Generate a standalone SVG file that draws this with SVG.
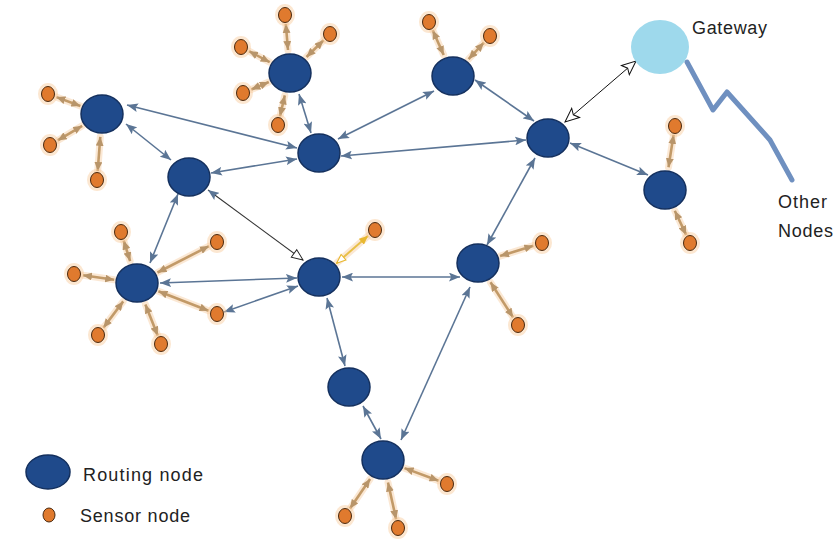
<svg xmlns="http://www.w3.org/2000/svg" width="835" height="542" viewBox="0 0 835 542">
<defs>
<style>
.rn{fill:#1F4A8B;stroke:#14305E;stroke-width:1.5}
.sn{fill:#E07A2E;stroke:#4A2A10;stroke-width:1}
.halo{fill:#F9C99A;opacity:0.45}
.bl{stroke:#5B7595;stroke-width:1.6;fill:none;marker-start:url(#ab);marker-end:url(#ab)}
.tg{stroke:#F8D5B0;stroke-width:7;fill:none;opacity:0.55;stroke-linecap:round}
.tn{stroke:#C29A68;stroke-width:2.6;fill:none;marker-start:url(#at);marker-end:url(#at)}
.lbl{font-family:"Liberation Sans",Arial,sans-serif;font-size:18px;fill:#222}
</style>
<marker id="ab" viewBox="0 0 10 8" refX="10" refY="4" markerWidth="11" markerHeight="9" markerUnits="userSpaceOnUse" orient="auto-start-reverse">
<path d="M0,0 L10,4 L0,8 L2,4 Z" fill="#5B7595"/>
</marker>
<marker id="at" viewBox="0 0 8 7" refX="8" refY="3.5" markerWidth="9" markerHeight="8" markerUnits="userSpaceOnUse" orient="auto-start-reverse">
<path d="M0,0 L8,3.5 L0,7 Z" fill="#B8956A"/>
</marker>
<marker id="ah" viewBox="0 0 16 14" refX="15" refY="7" markerWidth="16" markerHeight="14" markerUnits="userSpaceOnUse" orient="auto-start-reverse">
<path d="M1,1 L15,7 L1,13 L4,7 Z" fill="#fff" stroke="#111" stroke-width="1"/>
</marker>
<marker id="ahs" viewBox="0 0 14 12" refX="13" refY="6" markerWidth="13" markerHeight="12" markerUnits="userSpaceOnUse" orient="auto-start-reverse">
<path d="M1,1 L13,6 L1,11 Z" fill="#fff" stroke="#222" stroke-width="1"/>
</marker>
<marker id="ayh" viewBox="0 0 12 10" refX="11" refY="5" markerWidth="11" markerHeight="10" markerUnits="userSpaceOnUse" orient="auto-start-reverse">
<path d="M1,1 L11,5 L1,9 Z" fill="#fff" stroke="#E8B830" stroke-width="1.2"/>
</marker>
<marker id="ayf" viewBox="0 0 8 7" refX="8" refY="3.5" markerWidth="9" markerHeight="8" markerUnits="userSpaceOnUse" orient="auto">
<path d="M0,0 L8,3.5 L0,7 Z" fill="#E8B830"/>
</marker>
</defs>
<rect width="835" height="542" fill="#fff"/>

<g id="connectors">
<!-- sensor link glows -->
<g>
<line class="tg" x1="80.4" y1="106" x2="56.4" y2="97.1"/>
<line class="tg" x1="82.2" y1="125.8" x2="57.7" y2="140.4"/>
<line class="tg" x1="100.3" y1="136.9" x2="97.7" y2="171"/>
<line class="tg" x1="288" y1="50" x2="285.8" y2="24"/>
<line class="tg" x1="306.5" y1="57" x2="323.6" y2="40.3"/>
<line class="tg" x1="269.7" y1="62.2" x2="249" y2="51.2"/>
<line class="tg" x1="268.8" y1="82" x2="251.3" y2="89.5"/>
<line class="tg" x1="284.8" y1="95.4" x2="280" y2="116.2"/>
<line class="tg" x1="443.7" y1="55" x2="432.7" y2="30.2"/>
<line class="tg" x1="468.6" y1="59.1" x2="483.9" y2="42.6"/>
<line class="tg" x1="668.5" y1="167.3" x2="673.6" y2="134.9"/>
<line class="tg" x1="674.8" y1="210.8" x2="686.2" y2="234.9"/>
<line class="tg" x1="130.1" y1="261.1" x2="123.7" y2="240.6"/>
<line class="tg" x1="157.5" y1="272.5" x2="209" y2="246.1"/>
<line class="tg" x1="114.2" y1="279.8" x2="82.9" y2="275.3"/>
<line class="tg" x1="158.4" y1="291.3" x2="208.6" y2="310.7"/>
<line class="tg" x1="123.2" y1="301.4" x2="103.4" y2="327.8"/>
<line class="tg" x1="145.4" y1="304.4" x2="157.7" y2="335.6"/>
<line class="tg" x1="500" y1="256.1" x2="533.4" y2="245.7"/>
<line class="tg" x1="490.5" y1="282.3" x2="513.1" y2="317.4"/>
<line class="tg" x1="404.5" y1="468.1" x2="438.6" y2="480.8"/>
<line class="tg" x1="370.1" y1="479" x2="350" y2="508.6"/>
<line class="tg" x1="388" y1="482.5" x2="396.1" y2="519.2"/>
<line class="tg" x1="336.6" y1="263.2" x2="368.1" y2="235.8"/>
</g>
<!-- sensor links -->
<line class="tn" x1="80.4" y1="106" x2="56.4" y2="97.1"/>
<line class="tn" x1="82.2" y1="125.8" x2="57.7" y2="140.4"/>
<line class="tn" x1="100.3" y1="136.9" x2="97.7" y2="171"/>
<line class="tn" x1="288" y1="50" x2="285.8" y2="24"/>
<line class="tn" x1="306.5" y1="57" x2="323.6" y2="40.3"/>
<line class="tn" x1="269.7" y1="62.2" x2="249" y2="51.2"/>
<line class="tn" x1="268.8" y1="82" x2="251.3" y2="89.5"/>
<line class="tn" x1="284.8" y1="95.4" x2="280" y2="116.2"/>
<line class="tn" x1="443.7" y1="55" x2="432.7" y2="30.2"/>
<line class="tn" x1="468.6" y1="59.1" x2="483.9" y2="42.6"/>
<line class="tn" x1="668.5" y1="167.3" x2="673.6" y2="134.9"/>
<line class="tn" x1="674.8" y1="210.8" x2="686.2" y2="234.9"/>
<line class="tn" x1="130.1" y1="261.1" x2="123.7" y2="240.6"/>
<line class="tn" x1="157.5" y1="272.5" x2="209" y2="246.1"/>
<line class="tn" x1="114.2" y1="279.8" x2="82.9" y2="275.3"/>
<line class="tn" x1="158.4" y1="291.3" x2="208.6" y2="310.7"/>
<line class="tn" x1="123.2" y1="301.4" x2="103.4" y2="327.8"/>
<line class="tn" x1="145.4" y1="304.4" x2="157.7" y2="335.6"/>
<line class="tn" x1="500" y1="256.1" x2="533.4" y2="245.7"/>
<line class="tn" x1="490.5" y1="282.3" x2="513.1" y2="317.4"/>
<line class="tn" x1="404.5" y1="468.1" x2="438.6" y2="480.8"/>
<line class="tn" x1="370.1" y1="479" x2="350" y2="508.6"/>
<line class="tn" x1="388" y1="482.5" x2="396.1" y2="519.2"/>
<line x1="336.6" y1="263.2" x2="368.1" y2="235.8" stroke="#E8C04A" stroke-width="2" marker-start="url(#ayh)" marker-end="url(#ayf)"/>

<!-- routing links -->
<line class="bl" x1="127" y1="105" x2="297" y2="148"/>
<line class="bl" x1="126" y1="124" x2="171" y2="160"/>
<line class="bl" x1="211" y1="173" x2="297" y2="159"/>
<line class="bl" x1="299" y1="94" x2="311" y2="133"/>
<line class="bl" x1="434" y1="91" x2="338" y2="139"/>
<line class="bl" x1="526" y1="140" x2="341" y2="156"/>
<line class="bl" x1="475" y1="80" x2="534" y2="121"/>
<line class="bl" x1="570" y1="143" x2="648" y2="175"/>
<line class="bl" x1="535" y1="158" x2="487" y2="245"/>
<line class="bl" x1="178" y1="194" x2="150" y2="263"/>
<line class="bl" x1="160" y1="283" x2="297" y2="278"/>
<line class="bl" x1="298" y1="286" x2="224" y2="312"/>
<line class="bl" x1="342" y1="277" x2="460" y2="277"/>
<line class="bl" x1="327" y1="298" x2="345" y2="366"/>
<line class="bl" x1="470" y1="287" x2="401" y2="440"/>
<line class="bl" x1="363" y1="406" x2="381" y2="439"/>
<line x1="208" y1="190" x2="303" y2="260" stroke="#333" stroke-width="1.1" marker-start="url(#ab)" marker-end="url(#ahs)"/>
<line x1="565" y1="122" x2="636" y2="61" stroke="#111" stroke-width="1" marker-start="url(#ah)" marker-end="url(#ah)"/>
<path d="M687,62 L713,110 L727,92 L770,140 L792,180" fill="none" stroke="#6F90C0" stroke-width="5" stroke-linecap="round" stroke-linejoin="round"/>
</g>

<g id="gateway">
<ellipse cx="660" cy="47" rx="29" ry="27" fill="#9ED9EC"/>
<text class="lbl" x="692" y="34" textLength="75">Gateway</text>
</g>
<g id="other-nodes">
<text class="lbl" x="778" y="208" textLength="49">Other</text>
<text class="lbl" x="778" y="237" textLength="55">Nodes</text>
</g>

<g id="r1"><ellipse class="rn" cx="102" cy="114" rx="21" ry="19"/></g>
<g id="r2"><ellipse class="rn" cx="290" cy="73" rx="21" ry="19"/></g>
<g id="r3"><ellipse class="rn" cx="453" cy="76" rx="21" ry="19"/></g>
<g id="r4"><ellipse class="rn" cx="319" cy="153" rx="21" ry="19"/></g>
<g id="r5"><ellipse class="rn" cx="189" cy="177" rx="21" ry="19"/></g>
<g id="r6"><ellipse class="rn" cx="548" cy="138" rx="21" ry="19"/></g>
<g id="r7"><ellipse class="rn" cx="665" cy="190" rx="21" ry="19"/></g>
<g id="r8"><ellipse class="rn" cx="137" cy="283" rx="21" ry="19"/></g>
<g id="r9"><ellipse class="rn" cx="319" cy="277" rx="21" ry="19"/></g>
<g id="r10"><ellipse class="rn" cx="478" cy="263" rx="21" ry="19"/></g>
<g id="r11"><ellipse class="rn" cx="349" cy="387" rx="21" ry="19"/></g>
<g id="r12"><ellipse class="rn" cx="383" cy="460" rx="21" ry="19"/></g>

<g id="sensors">
<g id="s1"><ellipse class="halo" cx="48" cy="94" rx="10" ry="11"/><ellipse class="sn" cx="48" cy="94" rx="6.5" ry="7.5"/></g>
<g id="s2"><ellipse class="halo" cx="50" cy="145" rx="10" ry="11"/><ellipse class="sn" cx="50" cy="145" rx="6.5" ry="7.5"/></g>
<g id="s3"><ellipse class="halo" cx="97" cy="180" rx="10" ry="11"/><ellipse class="sn" cx="97" cy="180" rx="6.5" ry="7.5"/></g>
<g id="s4"><ellipse class="halo" cx="285" cy="15" rx="10" ry="11"/><ellipse class="sn" cx="285" cy="15" rx="6.5" ry="7.5"/></g>
<g id="s5"><ellipse class="halo" cx="330" cy="34" rx="10" ry="11"/><ellipse class="sn" cx="330" cy="34" rx="6.5" ry="7.5"/></g>
<g id="s6"><ellipse class="halo" cx="241" cy="47" rx="10" ry="11"/><ellipse class="sn" cx="241" cy="47" rx="6.5" ry="7.5"/></g>
<g id="s7"><ellipse class="halo" cx="243" cy="93" rx="10" ry="11"/><ellipse class="sn" cx="243" cy="93" rx="6.5" ry="7.5"/></g>
<g id="s8"><ellipse class="halo" cx="278" cy="125" rx="10" ry="11"/><ellipse class="sn" cx="278" cy="125" rx="6.5" ry="7.5"/></g>
<g id="s9"><ellipse class="halo" cx="429" cy="22" rx="10" ry="11"/><ellipse class="sn" cx="429" cy="22" rx="6.5" ry="7.5"/></g>
<g id="s10"><ellipse class="halo" cx="490" cy="36" rx="10" ry="11"/><ellipse class="sn" cx="490" cy="36" rx="6.5" ry="7.5"/></g>
<g id="s11"><ellipse class="halo" cx="675" cy="126" rx="10" ry="11"/><ellipse class="sn" cx="675" cy="126" rx="6.5" ry="7.5"/></g>
<g id="s12"><ellipse class="halo" cx="690" cy="243" rx="10" ry="11"/><ellipse class="sn" cx="690" cy="243" rx="6.5" ry="7.5"/></g>
<g id="s13"><ellipse class="halo" cx="121" cy="232" rx="10" ry="11"/><ellipse class="sn" cx="121" cy="232" rx="6.5" ry="7.5"/></g>
<g id="s14"><ellipse class="halo" cx="217" cy="242" rx="10" ry="11"/><ellipse class="sn" cx="217" cy="242" rx="6.5" ry="7.5"/></g>
<g id="s15"><ellipse class="halo" cx="74" cy="274" rx="10" ry="11"/><ellipse class="sn" cx="74" cy="274" rx="6.5" ry="7.5"/></g>
<g id="s16"><ellipse class="halo" cx="217" cy="314" rx="10" ry="11"/><ellipse class="sn" cx="217" cy="314" rx="6.5" ry="7.5"/></g>
<g id="s17"><ellipse class="halo" cx="98" cy="335" rx="10" ry="11"/><ellipse class="sn" cx="98" cy="335" rx="6.5" ry="7.5"/></g>
<g id="s18"><ellipse class="halo" cx="161" cy="344" rx="10" ry="11"/><ellipse class="sn" cx="161" cy="344" rx="6.5" ry="7.5"/></g>
<g id="s19"><ellipse class="halo" cx="375" cy="230" rx="10" ry="11"/><ellipse class="sn" cx="375" cy="230" rx="6.5" ry="7.5"/></g>
<g id="s20"><ellipse class="halo" cx="542" cy="243" rx="10" ry="11"/><ellipse class="sn" cx="542" cy="243" rx="6.5" ry="7.5"/></g>
<g id="s21"><ellipse class="halo" cx="518" cy="325" rx="10" ry="11"/><ellipse class="sn" cx="518" cy="325" rx="6.5" ry="7.5"/></g>
<g id="s22"><ellipse class="halo" cx="447" cy="484" rx="10" ry="11"/><ellipse class="sn" cx="447" cy="484" rx="6.5" ry="7.5"/></g>
<g id="s23"><ellipse class="halo" cx="345" cy="516" rx="10" ry="11"/><ellipse class="sn" cx="345" cy="516" rx="6.5" ry="7.5"/></g>
<g id="s24"><ellipse class="halo" cx="398" cy="528" rx="10" ry="11"/><ellipse class="sn" cx="398" cy="528" rx="6.5" ry="7.5"/></g>
</g>

<g id="legend">
<ellipse class="rn" cx="48" cy="472" rx="22" ry="17"/>
<text class="lbl" x="83" y="481" textLength="120">Routing node</text>
<ellipse class="sn" cx="49" cy="515" rx="6" ry="7"/>
<text class="lbl" x="80" y="522" textLength="110">Sensor node</text>
</g>
</svg>
